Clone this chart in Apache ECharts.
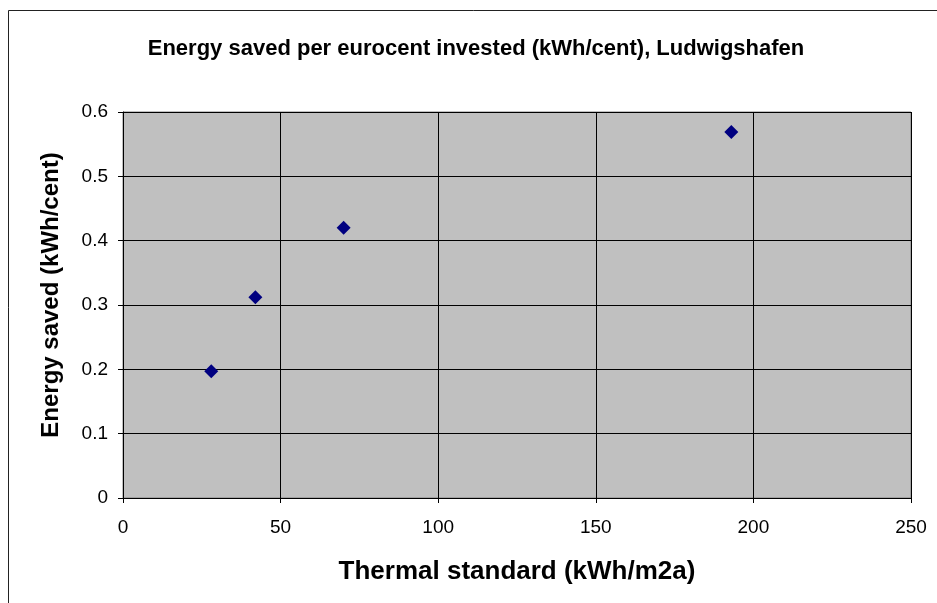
<!DOCTYPE html>
<html>
<head>
<meta charset="utf-8">
<script src="https://cdn.jsdelivr.net/npm/echarts@6/dist/echarts.min.js"></script>
<style>
  html, body { margin: 0; padding: 0; background: #fff; }
</style>
</head>
<body>
<!-- chart container -->
<div id="main" style="width: 937px; height: 603px"></div>
<script>
// data
var thermalStandard = [28, 42, 70, 193];
var energySaved = [0.197, 0.312, 0.42, 0.569];
var xTicks = [0, 50, 100, 150, 200, 250];
var yTicks = [0, 0.1, 0.2, 0.3, 0.4, 0.5, 0.6];

var points = thermalStandard.map(function (x, i) {
  return [x, energySaved[i]];
});

var font = 'Liberation Sans, Arial, sans-serif';

var myChart = echarts.init(document.getElementById('main'));
var option = {
  animation: false,
  backgroundColor: '#fff',
  textStyle: { fontFamily: font },
  title: {
    text: 'Energy saved per eurocent invested (kWh/cent), Ludwigshafen',
    left: 471,
    top: 33,
    textAlign: 'center',
    textStyle: { fontSize: 22, fontWeight: 'bold', color: '#000', fontFamily: font }
  },
  graphic: [{
    type: 'rect',
    shape: { x: 8.5, y: 10.5, width: 960, height: 640 },
    style: { fill: 'none', stroke: '#222', lineWidth: 1 },
    silent: true
  }],
  grid: {
    left: 123,
    top: 112,
    width: 788,
    height: 386,
    show: true,
    backgroundColor: '#c0c0c0',
    borderColor: '#808080',
    borderWidth: 1
  },
  xAxis: {
    type: 'value',
    min: xTicks[0],
    max: xTicks[xTicks.length - 1],
    interval: 50,
    name: 'Thermal standard (kWh/m2a)',
    nameLocation: 'middle',
    nameGap: 61,
    nameTextStyle: { fontSize: 26, fontWeight: 'bold', color: '#000', fontFamily: font },
    axisLine: { show: true, lineStyle: { color: '#000', width: 1 } },
    axisTick: { show: true, inside: false, length: 5, lineStyle: { color: '#000' } },
    axisLabel: { color: '#000', fontSize: 19, margin: 20, fontFamily: font },
    splitLine: { show: true, lineStyle: { color: '#000', width: 1 } }
  },
  yAxis: {
    type: 'value',
    min: yTicks[0],
    max: yTicks[yTicks.length - 1],
    interval: 0.1,
    name: 'Energy saved (kWh/cent)',
    nameLocation: 'middle',
    nameGap: 60,
    nameTextStyle: { fontSize: 24, fontWeight: 'bold', color: '#000', fontFamily: font, padding: [0, 0, 0, 20] },
    axisLine: { show: true, lineStyle: { color: '#000', width: 1 } },
    axisTick: { show: true, inside: false, length: 5, lineStyle: { color: '#000' } },
    axisLabel: { color: '#000', fontSize: 19, margin: 15, fontFamily: font },
    splitLine: { show: true, lineStyle: { color: '#000', width: 1 } }
  },
  series: [{
    type: 'scatter',
    symbol: 'diamond',
    symbolSize: 14,
    itemStyle: { color: '#000080', opacity: 1 },
    data: points
  }]
};
myChart.setOption(option);
</script>
</body>
</html>
